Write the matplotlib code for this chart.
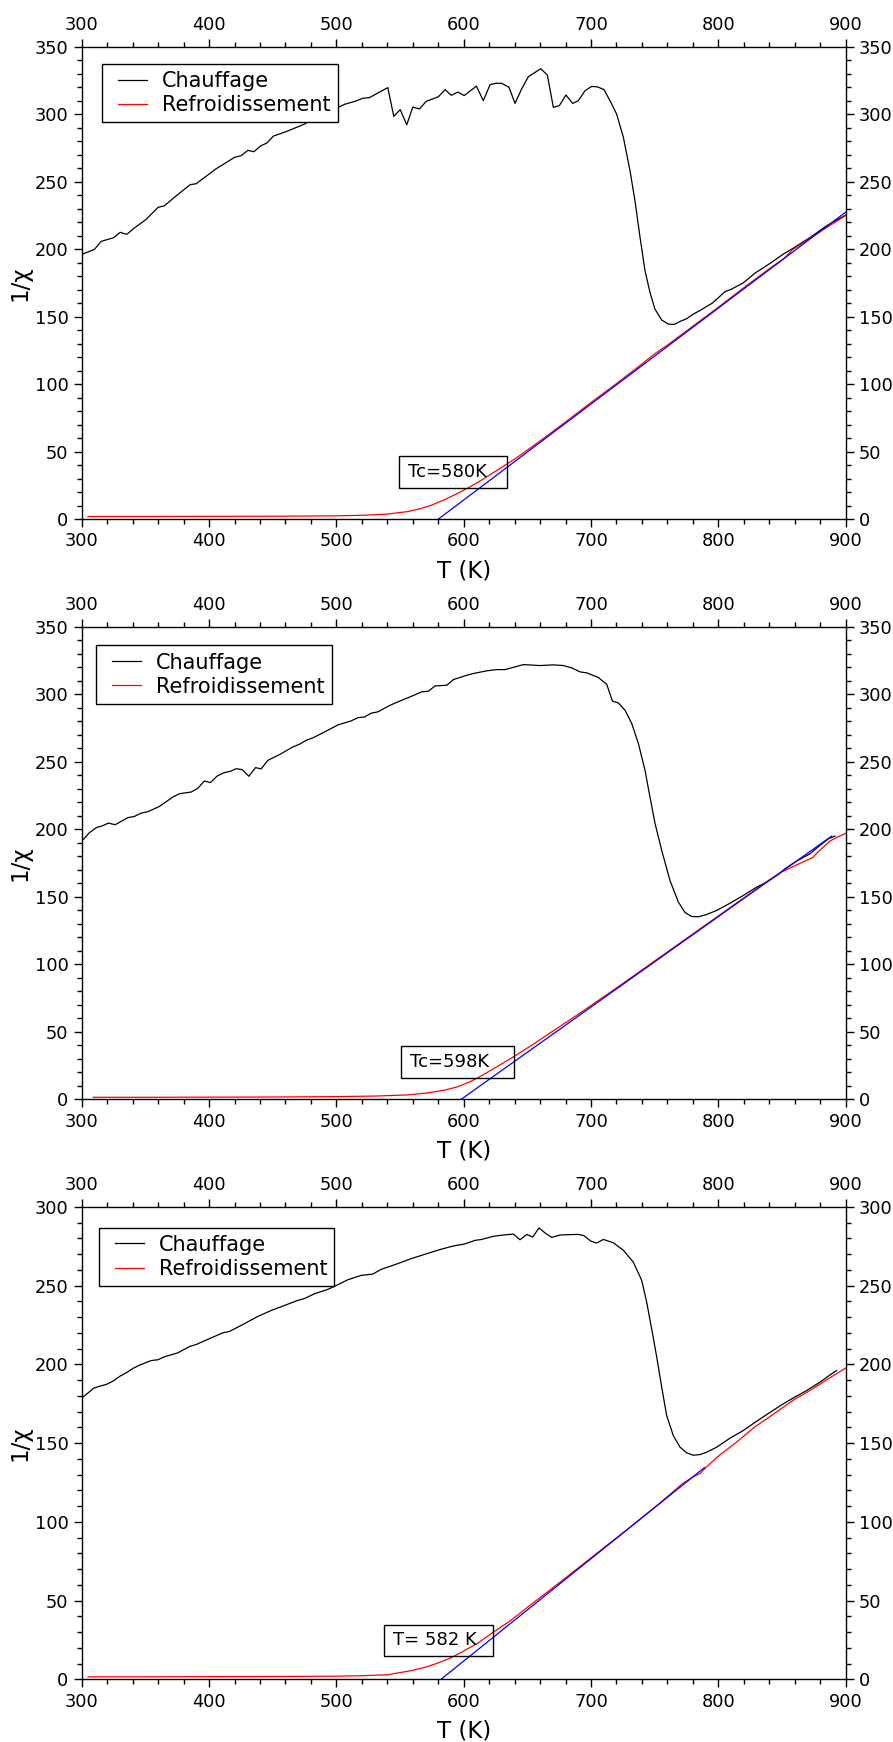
import matplotlib
matplotlib.use("Agg")
import matplotlib.pyplot as plt
from matplotlib.patches import Rectangle
from matplotlib.ticker import MultipleLocator
from matplotlib.legend_handler import HandlerLine2D

# ---------------- data ----------------
labels = ["Chauffage", "Refroidissement"]
xlabel = "T (K)"
ylabel = "1/χ"

# Panel 1
T1_heat = [300, 310, 315.3, 325, 330.2, 335.4, 340, 350.6, 360, 365, 374.7, 385.2, 389.9, 405.6,
           420, 425.2, 430.5, 435.2, 440.4, 445.4, 450.6, 460.6, 475, 480.2, 490.7, 496, 506.4,
           515.5, 520.8, 526, 540.4, 545.1, 550.1, 555.3, 560, 565.3, 570.5, 580.2, 585.4, 590.2,
           595.4, 600.4, 610, 615.4, 620.7, 625.1, 629.8, 635.6, 640.3, 645.5, 650.8, 660.5, 665.7,
           670.4, 675.1, 680.3, 685.6, 690, 695.3, 700.5, 705.2, 710.2, 714.9, 720.1, 725.4, 730.6,
           734.5, 738.5, 742.4, 746.3, 750.2, 755.5, 760.7, 765.4, 769.9, 775.1, 780.3, 785.6,
           795.3, 805.2, 810.5, 819.6, 828.8, 840.6, 851, 858.9, 872, 885.1, 900]
V1_heat = [196.1, 199.9, 205.8, 208.5, 212.5, 211, 214.7, 222.1, 231, 232.2, 239.9, 247.8, 248.5, 259.6,
           268, 269.3, 273.2, 272.2, 276.4, 278.7, 283.8, 287.1, 292.7, 295.9, 300.9, 302.6, 307.3,
           309.8, 311.8, 312.3, 319.7, 298.4, 303.4, 292.2, 305.3, 303.9, 309.5, 313, 318.2, 314,
           316.4, 313.8, 320.8, 310, 321.9, 322.9, 322.9, 319.9, 308, 318.7, 327.8, 333.7, 329,
           305.1, 306.3, 314.2, 308, 310, 317.4, 320.6, 320.2, 318.2, 310, 300.1, 282.9, 258.2,
           235.9, 208.7, 184, 168, 155.6, 147.5, 144.5, 144.3, 146.5, 148.5, 151.9, 154.6,
           160.1, 168.5, 170.5, 175.1, 182.3, 189.5, 196.4, 200.8, 208.7, 217.4, 225.3]
T1_cool = [305, 350, 400, 450, 500, 520, 540, 555, 565, 575, 585, 595, 605, 615, 625, 640, 660, 680,
           700, 720, 740, 750, 760, 780, 800, 820, 840, 852, 858, 880, 900]
V1_cool = [2, 2, 2.1, 2.2, 2.5, 2.9, 3.8, 5.5, 7.5, 10.5, 14.5, 19, 24, 29.5, 35.5, 44.5, 58, 72,
           86.5, 100.5, 115, 122.5, 129, 143, 157, 171.5, 185.5, 193.5, 199.5, 213, 225]
T1_fit = [580, 900]
V1_fit = [0, 227.5]
tc1_text = "Tc=580K"

# Panel 2
T2_heat = [300.1, 306.1, 311.4, 316.6, 321, 326.3, 336.2, 341.5, 346.7, 351.9, 361.1, 371.6, 376.8,
           386, 391.2, 396.4, 401.2, 406.4, 412.1, 416.9, 421.3, 426, 431.3, 436.5, 440.9, 446.2,
           455.3, 465.8, 471, 476.3, 481.5, 490.7, 501.2, 506.4, 511.6, 516.9, 522.1, 527.3, 532.6,
           542.2, 552.6, 557.9, 567, 572.3, 577.5, 586.7, 591.9, 602.4, 607.6, 618.1, 625.9, 632.5,
           646.9, 660, 670.4, 678.3, 684.8, 691.4, 696.6, 705.8, 712.3, 716.8, 721.5, 726.7, 732,
           737.2, 742.4, 746.3, 750.3, 755.5, 762, 768.6, 773.8, 779, 784.3, 790.8, 798.7, 809.2,
           819.6, 830.1, 838, 847.1, 852.4, 861.5, 872, 879.8, 886.4, 891.6]
V2_heat = [191.3, 197.5, 201.2, 202.7, 204.6, 203.4, 208.6, 209.6, 212, 213, 217, 223.9, 226.4,
           227.6, 230.4, 235.8, 234.6, 239.5, 242, 243, 244.9, 244.2, 239.3, 245.7, 244.7, 251.1,
           255.3, 261, 263, 265.9, 267.7, 272.1, 277.3, 278.8, 280.3, 282.7, 283.2, 286, 287,
           291.9, 296.1, 298.1, 301.8, 302.3, 306.2, 306.7, 310.9, 314.1, 315.4, 317.4, 318.3, 318.3,
           322, 321.3, 321.8, 321.3, 319.6, 316.6, 315.9, 312.4, 307.5, 294.9, 293.6, 288.2, 278.3,
           263.5, 243.7, 223.9, 204.2, 184.4, 162.1, 146.1, 138.4, 135.4, 135.2, 136.9, 139.9, 145.3,
           151, 157.2, 160.9, 166.6, 170.8, 176.5, 181.9, 188.1, 193, 195]
T2_cool = [309, 350, 400, 450, 500, 530, 555, 570, 585, 595, 605, 615, 625, 640, 655, 670, 690, 720,
           750, 780, 810, 840, 850, 860, 868, 874, 878, 888, 893, 900]
V2_cool = [1.5, 1.5, 1.6, 1.7, 2.0, 2.4, 3.2, 4.5, 6.8, 9.2, 13, 18, 23.5, 32, 41, 50.5, 63, 82.5,
           102.5, 122.5, 142.5, 162.5, 168.5, 173, 176.5, 179, 183, 191.5, 194, 197]
T2_fit = [598, 889]
V2_fit = [0, 195]
tc2_text = "Tc=598K"

# Panel 3
T3_heat = [300.1, 304.8, 309.5, 314, 319.2, 324.5, 329.7, 334.9, 340.2, 345.4, 354.6, 359.8, 365,
           375.5, 384.7, 389.9, 401.7, 410.8, 416.1, 425.2, 438.3, 448.8, 459.3, 469.7, 475, 482.8,
           493.3, 498.5, 509, 519.5, 528.6, 535.2, 545.7, 558.7, 569.2, 581, 591.5, 600.6, 608.9,
           614.1, 623.3, 631.1, 639, 644.2, 649.5, 654.2, 659.1, 664.6, 669.1, 675.6, 680.9, 690,
           694.5, 699.7, 704.4, 709.7, 717.5, 725.4, 733.2, 739.8, 743.7, 747.6, 751.6, 755.5,
           759.4, 764.6, 769.9, 775.1, 780.3, 785.6, 790.8, 798.7, 809.1, 819.6, 830.1, 837.9,
           849.7, 858.9, 869.4, 879.8, 887.7, 892.9]
V3_heat = [178.8, 181.8, 185, 186.2, 187.3, 189.4, 192.4, 194.7, 197.5, 199.6, 202.5, 203, 204.9,
           207.4, 211.4, 212.7, 216.9, 220.1, 221, 224.8, 230.5, 234.3, 237.5, 240.7, 241.9, 244.9,
           247.7, 249.6, 253.8, 256.6, 257.4, 260.4, 263.3, 267.2, 269.9, 272.9, 275.2, 276.5, 278.8,
           279.4, 281.4, 282.2, 282.8, 279.2, 282.6, 280.9, 286.7, 283.1, 280.7, 282.2, 282.4, 282.6,
           281.8, 278.4, 277.1, 279.4, 277.3, 272.5, 265, 253.4, 239.6, 222.7, 204.7, 185.6,
           167.6, 154.9, 147.5, 143.9, 142.4, 142.8, 144.3, 147.5, 153.2, 158.1, 164, 168.2,
           174.4, 178.8, 183.5, 188.8, 193.4, 196.2]
T3_cool = [305, 350, 400, 450, 500, 520, 540, 558, 570, 581, 590, 598, 611, 623, 637, 650, 676, 702,
           728, 754, 772, 780, 786, 790, 801, 814, 828, 838, 851, 859, 872, 885, 900]
V3_cool = [1.7, 1.7, 1.8, 1.9, 2.1, 2.4, 3, 5.5, 7.8, 10.8, 13.8, 17.2, 23, 29.9, 37.5, 45.8, 62,
           78.5, 95, 112, 124.5, 128.5, 131, 134.5, 142.5, 150.5, 160, 165.5, 172.9, 177.5, 183.5,
           190.3, 197.7]
T3_fit = [582, 789]
V3_fit = [0, 134.5]
tc3_text = "T= 582 K"

panels = [
    dict(th=T1_heat, vh=V1_heat, tc=T1_cool, vc=V1_cool, tf=T1_fit, vf=V1_fit, txt=tc1_text, ymax=350),
    dict(th=T2_heat, vh=V2_heat, tc=T2_cool, vc=V2_cool, tf=T2_fit, vf=V2_fit, txt=tc2_text, ymax=350),
    dict(th=T3_heat, vh=V3_heat, tc=T3_cool, vc=V3_cool, tf=T3_fit, vf=V3_fit, txt=tc3_text, ymax=300),
]

# ---------------- layout / style ----------------
W, H = 893, 1742
fig = plt.figure(figsize=(W / 100, H / 100), dpi=100)
plt.rcParams['font.family'] = ['DejaVu Sans']

left, width, height = 0.09149, 0.85554, 0.27124
bottoms = [0.70195, 0.36894, 0.03588]
legend_anchor = [(0.0266, 0.9634), (0.0191, 0.9606), (0.0223, 0.9564)]
boxes = [  # x0, x1, y0, y1, text_x (axes fraction)
    (0.4153, 0.5571, 0.0656, 0.1328, 0.4271),
    (0.4175, 0.5658, 0.0451, 0.1128, 0.4297),
    (0.3957, 0.5387, 0.0504, 0.1160, 0.4075),
]

handler = HandlerLine2D(xpad=0.43)

for i, p in enumerate(panels):
    ax = fig.add_axes([left, bottoms[i], width, height])
    lh, = ax.plot(p['th'], p['vh'], color='black', lw=0.9)
    lc, = ax.plot(p['tc'], p['vc'], color='red', lw=0.9)
    ax.plot(p['tf'], p['vf'], color='blue', lw=0.9)
    ax.set_xlim(300, 900)
    ax.set_ylim(0, p['ymax'])
    ax.xaxis.set_major_locator(MultipleLocator(100))
    ax.xaxis.set_minor_locator(MultipleLocator(20))
    ax.yaxis.set_major_locator(MultipleLocator(50))
    ax.yaxis.set_minor_locator(MultipleLocator(10))
    ax.tick_params(which='both', direction='out', top=True, right=True,
                   labeltop=True, labelright=True, labelsize=12.8, width=1.0,
                   colors='black', pad=3.5)
    ax.tick_params(which='major', length=6)
    ax.tick_params(which='minor', length=3.5)
    for s in ax.spines.values():
        s.set_linewidth(1.0)
    ax.set_xlabel(xlabel, fontsize=16.5, labelpad=6.5)
    ax.set_ylabel(ylabel, fontsize=16.5, labelpad=2)

    leg = ax.legend([lh, lc], labels, loc='upper left', bbox_to_anchor=legend_anchor[i],
                    borderaxespad=0, fontsize=15, frameon=True, fancybox=False,
                    edgecolor='black', framealpha=1, handlelength=1.82, handletextpad=0.72,
                    labelspacing=0.2, borderpad=0.34,
                    handler_map={lh: handler, lc: handler})
    leg.get_frame().set_linewidth(1.0)

    x0, x1, y0, y1, tx = boxes[i]
    ax.add_patch(Rectangle((x0, y0), x1 - x0, y1 - y0, transform=ax.transAxes,
                           fill=False, edgecolor='black', lw=1.0, zorder=5))
    ax.text(tx, (y0 + y1) / 2, p['txt'], transform=ax.transAxes, fontsize=13,
            ha='left', va='center', zorder=6)

fig.savefig("out.png", dpi=100)
